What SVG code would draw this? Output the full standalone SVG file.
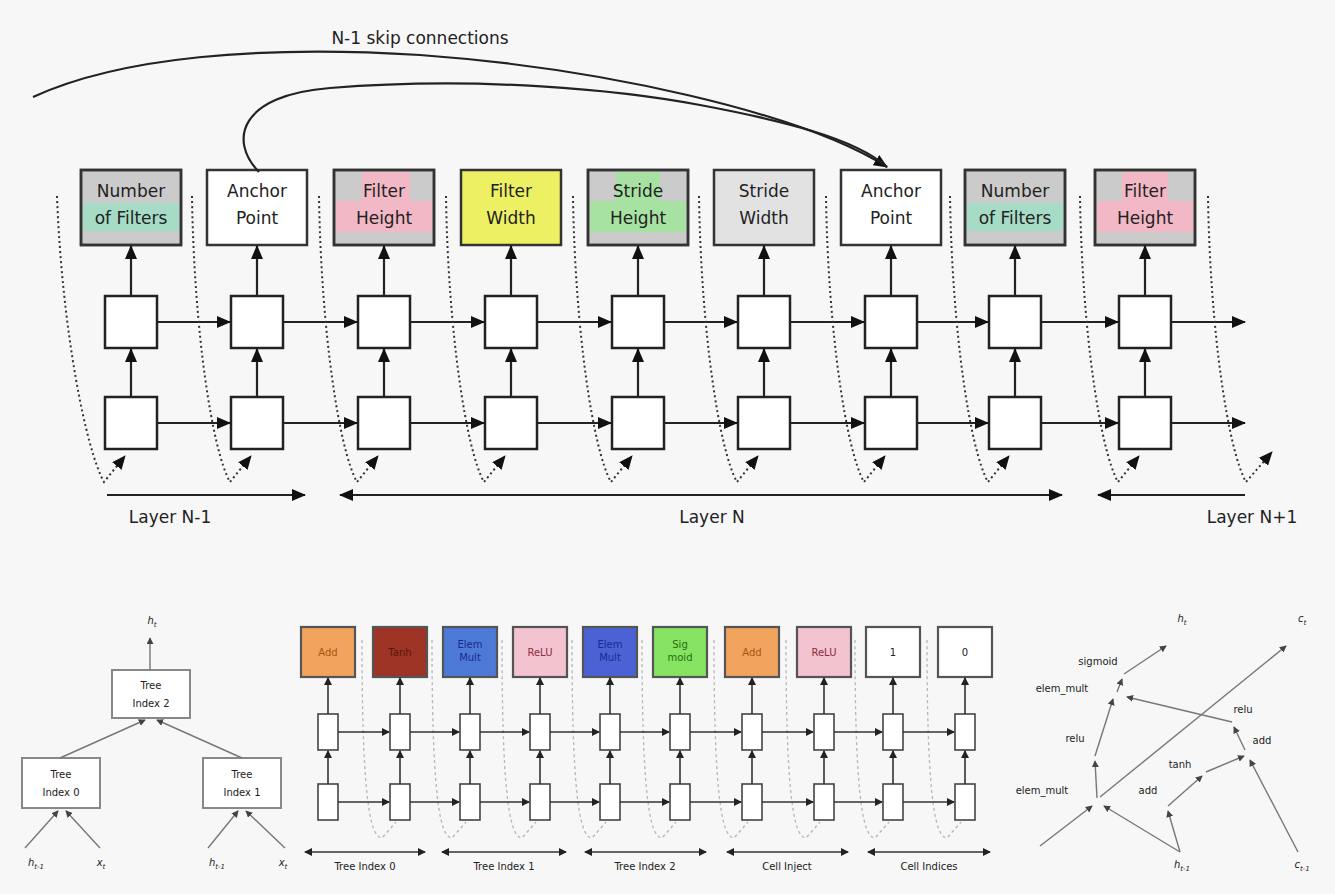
<svg xmlns="http://www.w3.org/2000/svg" width="1335" height="894" viewBox="0 0 1335 894">
<defs>
<style>
.t{font-family:"DejaVu Sans","Liberation Sans",sans-serif;fill:#222;}
.big{font-size:17px;text-anchor:middle;}
.sm{font-size:10px;text-anchor:middle;}
.ob{stroke:#333;stroke-width:2.5;}
.cell{fill:#fff;stroke:#222;stroke-width:2.5;}
.ln{fill:none;stroke:#222;stroke-width:2.2;}
.dot{fill:none;stroke:#333;stroke-width:2;stroke-dasharray:2 3;}
.cb{stroke:#555;stroke-width:2.2;}
.sc{fill:#fff;stroke:#444;stroke-width:1.6;}
.sl{fill:none;stroke:#333;stroke-width:1.6;}
.fd{fill:none;stroke:#b5b5b5;stroke-width:1.3;stroke-dasharray:3 3;}
.gl{fill:none;stroke:#777;stroke-width:1.4;}
.tb{fill:#fff;stroke:#888;stroke-width:2;}
</style>
<marker id="ah" viewBox="0 0 14 12" refX="13" refY="6" markerWidth="14" markerHeight="12" markerUnits="userSpaceOnUse" orient="auto-start-reverse"><path d="M0,0 L14,6 L0,12 z" fill="#111"/></marker>
<marker id="as" viewBox="0 0 8 8" refX="7" refY="4" markerWidth="8" markerHeight="8" markerUnits="userSpaceOnUse" orient="auto-start-reverse"><path d="M0,0 L8,4 L0,8 z" fill="#222"/></marker>
<marker id="ag" viewBox="0 0 8 8" refX="7" refY="4" markerWidth="7" markerHeight="7" markerUnits="userSpaceOnUse" orient="auto-start-reverse"><path d="M0,0 L8,4 L0,8 z" fill="#444"/></marker>
</defs>
<rect width="1335" height="894" fill="#f7f7f7"/>

<!-- ===== TOP: output boxes ===== -->
<g id="out1"><rect class="ob" x="81" y="170" width="100" height="75" fill="#cbcbcb"/><rect x="83" y="203" width="96" height="28" fill="#a6dcc6"/><rect class="ob" x="81" y="170" width="100" height="75" fill="none"/><text class="t big" x="131" y="197">Number</text><text class="t big" x="131" y="224">of Filters</text></g>
<g id="out2"><rect class="ob" x="207" y="170" width="100" height="75" fill="#fff"/><text class="t big" x="257" y="197">Anchor</text><text class="t big" x="257" y="224">Point</text></g>
<g id="out3"><rect class="ob" x="334" y="170" width="100" height="75" fill="#cbcbcb"/><rect x="336" y="201" width="96" height="31" fill="#f2b8c6"/><rect x="362" y="172" width="48" height="30" fill="#f2b8c6"/><rect class="ob" x="334" y="170" width="100" height="75" fill="none"/><text class="t big" x="384" y="197">Filter</text><text class="t big" x="384" y="224">Height</text></g>
<g id="out4"><rect class="ob" x="461" y="170" width="100" height="75" fill="#eef064"/><text class="t big" x="511" y="197">Filter</text><text class="t big" x="511" y="224">Width</text></g>
<g id="out5"><rect class="ob" x="588" y="170" width="100" height="75" fill="#cbcbcb"/><rect x="590" y="201" width="96" height="31" fill="#a8e2a2"/><rect x="616" y="172" width="44" height="30" fill="#a8e2a2"/><rect class="ob" x="588" y="170" width="100" height="75" fill="none"/><text class="t big" x="638" y="197">Stride</text><text class="t big" x="638" y="224">Height</text></g>
<g id="out6"><rect class="ob" x="714" y="170" width="100" height="75" fill="#e2e2e2"/><text class="t big" x="764" y="197">Stride</text><text class="t big" x="764" y="224">Width</text></g>
<g id="out7"><rect class="ob" x="841" y="170" width="100" height="75" fill="#fff"/><text class="t big" x="891" y="197">Anchor</text><text class="t big" x="891" y="224">Point</text></g>
<g id="out8"><rect class="ob" x="965" y="170" width="100" height="75" fill="#cbcbcb"/><rect x="967" y="203" width="96" height="28" fill="#a6dcc6"/><rect class="ob" x="965" y="170" width="100" height="75" fill="none"/><text class="t big" x="1015" y="197">Number</text><text class="t big" x="1015" y="224">of Filters</text></g>
<g id="out9"><rect class="ob" x="1095" y="170" width="100" height="75" fill="#cbcbcb"/><rect x="1097" y="201" width="96" height="31" fill="#f2b8c6"/><rect x="1122" y="172" width="46" height="30" fill="#f2b8c6"/><rect class="ob" x="1095" y="170" width="100" height="75" fill="none"/><text class="t big" x="1145" y="197">Filter</text><text class="t big" x="1145" y="224">Height</text></g>

<!-- ===== TOP: cells ===== -->
<g id="cells-top">
<rect class="cell" x="105" y="296" width="52" height="52"/><rect class="cell" x="105" y="397" width="52" height="52"/>
<rect class="cell" x="231" y="296" width="52" height="52"/><rect class="cell" x="231" y="397" width="52" height="52"/>
<rect class="cell" x="358" y="296" width="52" height="52"/><rect class="cell" x="358" y="397" width="52" height="52"/>
<rect class="cell" x="485" y="296" width="52" height="52"/><rect class="cell" x="485" y="397" width="52" height="52"/>
<rect class="cell" x="612" y="296" width="52" height="52"/><rect class="cell" x="612" y="397" width="52" height="52"/>
<rect class="cell" x="738" y="296" width="52" height="52"/><rect class="cell" x="738" y="397" width="52" height="52"/>
<rect class="cell" x="865" y="296" width="52" height="52"/><rect class="cell" x="865" y="397" width="52" height="52"/>
<rect class="cell" x="989" y="296" width="52" height="52"/><rect class="cell" x="989" y="397" width="52" height="52"/>
<rect class="cell" x="1119" y="296" width="52" height="52"/><rect class="cell" x="1119" y="397" width="52" height="52"/>
</g>

<!-- ===== TOP: connectors ===== -->
<g id="connectors-top">
<text class="t big" x="420" y="44">N-1 skip connections</text>
<path class="ln" d="M33,97 C120,57 260,45 420,55 C600,68 800,112 887,167" marker-end="url(#ah)"/>
<path class="ln" d="M259,172 C228,140 240,95 330,88 C480,76 620,90 700,105 C780,120 855,138 887,167"/>
<!-- vertical -->
<g>
<line class="ln" x1="131" y1="397" x2="131" y2="349" marker-end="url(#ah)"/><line class="ln" x1="131" y1="296" x2="131" y2="246" marker-end="url(#ah)"/>
<line class="ln" x1="257" y1="397" x2="257" y2="349" marker-end="url(#ah)"/><line class="ln" x1="257" y1="296" x2="257" y2="246" marker-end="url(#ah)"/>
<line class="ln" x1="384" y1="397" x2="384" y2="349" marker-end="url(#ah)"/><line class="ln" x1="384" y1="296" x2="384" y2="246" marker-end="url(#ah)"/>
<line class="ln" x1="511" y1="397" x2="511" y2="349" marker-end="url(#ah)"/><line class="ln" x1="511" y1="296" x2="511" y2="246" marker-end="url(#ah)"/>
<line class="ln" x1="638" y1="397" x2="638" y2="349" marker-end="url(#ah)"/><line class="ln" x1="638" y1="296" x2="638" y2="246" marker-end="url(#ah)"/>
<line class="ln" x1="764" y1="397" x2="764" y2="349" marker-end="url(#ah)"/><line class="ln" x1="764" y1="296" x2="764" y2="246" marker-end="url(#ah)"/>
<line class="ln" x1="891" y1="397" x2="891" y2="349" marker-end="url(#ah)"/><line class="ln" x1="891" y1="296" x2="891" y2="246" marker-end="url(#ah)"/>
<line class="ln" x1="1015" y1="397" x2="1015" y2="349" marker-end="url(#ah)"/><line class="ln" x1="1015" y1="296" x2="1015" y2="246" marker-end="url(#ah)"/>
<line class="ln" x1="1145" y1="397" x2="1145" y2="349" marker-end="url(#ah)"/><line class="ln" x1="1145" y1="296" x2="1145" y2="246" marker-end="url(#ah)"/>
</g>
<!-- horizontal -->
<g>
<line class="ln" x1="157" y1="322" x2="230" y2="322" marker-end="url(#ah)"/><line class="ln" x1="157" y1="423" x2="230" y2="423" marker-end="url(#ah)"/>
<line class="ln" x1="283" y1="322" x2="357" y2="322" marker-end="url(#ah)"/><line class="ln" x1="283" y1="423" x2="357" y2="423" marker-end="url(#ah)"/>
<line class="ln" x1="410" y1="322" x2="484" y2="322" marker-end="url(#ah)"/><line class="ln" x1="410" y1="423" x2="484" y2="423" marker-end="url(#ah)"/>
<line class="ln" x1="537" y1="322" x2="611" y2="322" marker-end="url(#ah)"/><line class="ln" x1="537" y1="423" x2="611" y2="423" marker-end="url(#ah)"/>
<line class="ln" x1="664" y1="322" x2="737" y2="322" marker-end="url(#ah)"/><line class="ln" x1="664" y1="423" x2="737" y2="423" marker-end="url(#ah)"/>
<line class="ln" x1="790" y1="322" x2="864" y2="322" marker-end="url(#ah)"/><line class="ln" x1="790" y1="423" x2="864" y2="423" marker-end="url(#ah)"/>
<line class="ln" x1="917" y1="322" x2="988" y2="322" marker-end="url(#ah)"/><line class="ln" x1="917" y1="423" x2="988" y2="423" marker-end="url(#ah)"/>
<line class="ln" x1="1041" y1="322" x2="1118" y2="322" marker-end="url(#ah)"/><line class="ln" x1="1041" y1="423" x2="1118" y2="423" marker-end="url(#ah)"/>
<line class="ln" x1="1171" y1="322" x2="1245" y2="322" marker-end="url(#ah)"/><line class="ln" x1="1171" y1="423" x2="1245" y2="423" marker-end="url(#ah)"/>
</g>
<!-- dotted feedback -->
<g>
<path class="dot" d="M57,196 C62,330 86,450 104,482 L125,456" marker-end="url(#ah)"/>
<path class="dot" d="M192,196 C194,330 212,450 230,482 L251,456" marker-end="url(#ah)"/>
<path class="dot" d="M319,196 C321,330 339,450 357,482 L378,456" marker-end="url(#ah)"/>
<path class="dot" d="M446,196 C448,330 466,450 484,482 L505,456" marker-end="url(#ah)"/>
<path class="dot" d="M573,196 C575,330 593,450 611,482 L632,456" marker-end="url(#ah)"/>
<path class="dot" d="M699,196 C701,330 719,450 737,482 L758,456" marker-end="url(#ah)"/>
<path class="dot" d="M826,196 C828,330 846,450 864,482 L885,456" marker-end="url(#ah)"/>
<path class="dot" d="M950,196 C952,330 970,450 988,482 L1009,456" marker-end="url(#ah)"/>
<path class="dot" d="M1080,196 C1082,330 1100,450 1118,482 L1139,456" marker-end="url(#ah)"/>
<path class="dot" d="M1208,196 C1210,330 1228,450 1246,482 L1272,452" marker-end="url(#ah)"/>
</g>
<!-- layer spans -->
<line class="ln" x1="107" y1="495" x2="305" y2="495" marker-end="url(#ah)"/>
<line class="ln" x1="340" y1="495" x2="1062" y2="495" marker-start="url(#ah)" marker-end="url(#ah)"/>
<line class="ln" x1="1245" y1="495" x2="1098" y2="495" marker-end="url(#ah)"/>
<text class="t big" x="170" y="523">Layer N-1</text>
<text class="t big" x="712" y="523">Layer N</text>
<text class="t big" x="1252" y="523">Layer N+1</text>
</g>

<!-- ===== BOTTOM LEFT: tree ===== -->
<g id="tree-2"><rect class="tb" x="112" y="670" width="78" height="48"/><text class="t sm" x="151" y="689">Tree</text><text class="t sm" x="151" y="707">Index 2</text></g>
<g id="tree-0"><rect class="tb" x="22" y="758" width="78" height="50"/><text class="t sm" x="61" y="778">Tree</text><text class="t sm" x="61" y="796">Index 0</text></g>
<g id="tree-1"><rect class="tb" x="203" y="758" width="78" height="50"/><text class="t sm" x="242" y="778">Tree</text><text class="t sm" x="242" y="796">Index 1</text></g>
<g id="tree-edges">
<line class="gl" x1="150" y1="670" x2="150" y2="638" marker-end="url(#ag)"/>
<line class="gl" x1="60" y1="758" x2="145" y2="720" marker-end="url(#ag)"/>
<line class="gl" x1="242" y1="758" x2="157" y2="720" marker-end="url(#ag)"/>
<line class="gl" x1="25" y1="848" x2="58" y2="811" marker-end="url(#ag)"/>
<line class="gl" x1="100" y1="848" x2="66" y2="811" marker-end="url(#ag)"/>
<line class="gl" x1="208" y1="848" x2="238" y2="811" marker-end="url(#ag)"/>
<line class="gl" x1="285" y1="848" x2="246" y2="811" marker-end="url(#ag)"/>
<text class="t sm" x="152" y="624" font-style="italic">h<tspan font-size="7" dy="3">t</tspan></text>
<text class="t sm" x="36" y="866" font-style="italic">h<tspan font-size="7" dy="3">t-1</tspan></text>
<text class="t sm" x="101" y="866" font-style="italic">x<tspan font-size="7" dy="3">t</tspan></text>
<text class="t sm" x="217" y="866" font-style="italic">h<tspan font-size="7" dy="3">t-1</tspan></text>
<text class="t sm" x="283" y="866" font-style="italic">x<tspan font-size="7" dy="3">t</tspan></text>
</g>

<!-- ===== BOTTOM MIDDLE: predictions ===== -->
<g id="pred-faint">
<path class="fd" d="M362,640 C362,780 368,838 382,838 L396,822"/>
<path class="fd" d="M432,640 C432,780 438,838 452,838 L466,822"/>
<path class="fd" d="M502,640 C502,780 508,838 522,838 L536,822"/>
<path class="fd" d="M572,640 C572,780 578,838 592,838 L606,822"/>
<path class="fd" d="M642,640 C642,780 648,838 662,838 L676,822"/>
<path class="fd" d="M714,640 C714,780 720,838 734,838 L748,822"/>
<path class="fd" d="M786,640 C786,780 792,838 806,838 L820,822"/>
<path class="fd" d="M855,640 C855,780 861,838 875,838 L889,822"/>
<path class="fd" d="M927,640 C927,780 933,838 947,838 L961,822"/>
</g>
<g id="p1"><rect class="cb" x="301" y="627" width="54" height="50" fill="#f2a35e"/><text class="t sm" x="328" y="656" fill="#a85510" style="fill:#a85510">Add</text></g>
<g id="p2"><rect class="cb" x="373" y="627" width="54" height="50" fill="#9e3426"/><text class="t sm" x="400" y="656" style="fill:#5a140c">Tanh</text></g>
<g id="p3"><rect class="cb" x="443" y="627" width="54" height="50" fill="#4d7ad6"/><text class="t sm" x="470" y="648" style="fill:#1c2a90">Elem</text><text class="t sm" x="470" y="661" style="fill:#1c2a90">Mult</text></g>
<g id="p4"><rect class="cb" x="513" y="627" width="54" height="50" fill="#f3c3d0"/><text class="t sm" x="540" y="656" style="fill:#8a2c40">ReLU</text></g>
<g id="p5"><rect class="cb" x="583" y="627" width="54" height="50" fill="#4a62d4"/><text class="t sm" x="610" y="648" style="fill:#1c2a90">Elem</text><text class="t sm" x="610" y="661" style="fill:#1c2a90">Mult</text></g>
<g id="p6"><rect class="cb" x="653" y="627" width="54" height="50" fill="#86e462"/><text class="t sm" x="680" y="648" style="fill:#2a6a10">Sig</text><text class="t sm" x="680" y="661" style="fill:#2a6a10">moid</text></g>
<g id="p7"><rect class="cb" x="725" y="627" width="54" height="50" fill="#f2a35e"/><text class="t sm" x="752" y="656" style="fill:#a85510">Add</text></g>
<g id="p8"><rect class="cb" x="797" y="627" width="54" height="50" fill="#f3c3d0"/><text class="t sm" x="824" y="656" style="fill:#8a2c40">ReLU</text></g>
<g id="p9"><rect class="cb" x="866" y="627" width="54" height="50" fill="#fff"/><text class="t sm" x="893" y="656">1</text></g>
<g id="p10"><rect class="cb" x="938" y="627" width="54" height="50" fill="#fff"/><text class="t sm" x="965" y="656">0</text></g>
<g id="pred-cells">
<rect class="sc" x="318" y="714" width="20" height="36"/><rect class="sc" x="318" y="784" width="20" height="36"/>
<rect class="sc" x="390" y="714" width="20" height="36"/><rect class="sc" x="390" y="784" width="20" height="36"/>
<rect class="sc" x="460" y="714" width="20" height="36"/><rect class="sc" x="460" y="784" width="20" height="36"/>
<rect class="sc" x="530" y="714" width="20" height="36"/><rect class="sc" x="530" y="784" width="20" height="36"/>
<rect class="sc" x="600" y="714" width="20" height="36"/><rect class="sc" x="600" y="784" width="20" height="36"/>
<rect class="sc" x="670" y="714" width="20" height="36"/><rect class="sc" x="670" y="784" width="20" height="36"/>
<rect class="sc" x="742" y="714" width="20" height="36"/><rect class="sc" x="742" y="784" width="20" height="36"/>
<rect class="sc" x="814" y="714" width="20" height="36"/><rect class="sc" x="814" y="784" width="20" height="36"/>
<rect class="sc" x="883" y="714" width="20" height="36"/><rect class="sc" x="883" y="784" width="20" height="36"/>
<rect class="sc" x="955" y="714" width="20" height="36"/><rect class="sc" x="955" y="784" width="20" height="36"/>
</g>
<g id="pred-connectors">
<line class="sl" x1="328" y1="784" x2="328" y2="751" marker-end="url(#as)"/><line class="sl" x1="328" y1="714" x2="328" y2="678" marker-end="url(#as)"/>
<line class="sl" x1="400" y1="784" x2="400" y2="751" marker-end="url(#as)"/><line class="sl" x1="400" y1="714" x2="400" y2="678" marker-end="url(#as)"/>
<line class="sl" x1="470" y1="784" x2="470" y2="751" marker-end="url(#as)"/><line class="sl" x1="470" y1="714" x2="470" y2="678" marker-end="url(#as)"/>
<line class="sl" x1="540" y1="784" x2="540" y2="751" marker-end="url(#as)"/><line class="sl" x1="540" y1="714" x2="540" y2="678" marker-end="url(#as)"/>
<line class="sl" x1="610" y1="784" x2="610" y2="751" marker-end="url(#as)"/><line class="sl" x1="610" y1="714" x2="610" y2="678" marker-end="url(#as)"/>
<line class="sl" x1="680" y1="784" x2="680" y2="751" marker-end="url(#as)"/><line class="sl" x1="680" y1="714" x2="680" y2="678" marker-end="url(#as)"/>
<line class="sl" x1="752" y1="784" x2="752" y2="751" marker-end="url(#as)"/><line class="sl" x1="752" y1="714" x2="752" y2="678" marker-end="url(#as)"/>
<line class="sl" x1="824" y1="784" x2="824" y2="751" marker-end="url(#as)"/><line class="sl" x1="824" y1="714" x2="824" y2="678" marker-end="url(#as)"/>
<line class="sl" x1="893" y1="784" x2="893" y2="751" marker-end="url(#as)"/><line class="sl" x1="893" y1="714" x2="893" y2="678" marker-end="url(#as)"/>
<line class="sl" x1="965" y1="784" x2="965" y2="751" marker-end="url(#as)"/><line class="sl" x1="965" y1="714" x2="965" y2="678" marker-end="url(#as)"/>
<line class="sl" x1="338" y1="732" x2="389" y2="732" marker-end="url(#as)"/><line class="sl" x1="338" y1="802" x2="389" y2="802" marker-end="url(#as)"/>
<line class="sl" x1="410" y1="732" x2="459" y2="732" marker-end="url(#as)"/><line class="sl" x1="410" y1="802" x2="459" y2="802" marker-end="url(#as)"/>
<line class="sl" x1="480" y1="732" x2="529" y2="732" marker-end="url(#as)"/><line class="sl" x1="480" y1="802" x2="529" y2="802" marker-end="url(#as)"/>
<line class="sl" x1="550" y1="732" x2="599" y2="732" marker-end="url(#as)"/><line class="sl" x1="550" y1="802" x2="599" y2="802" marker-end="url(#as)"/>
<line class="sl" x1="620" y1="732" x2="669" y2="732" marker-end="url(#as)"/><line class="sl" x1="620" y1="802" x2="669" y2="802" marker-end="url(#as)"/>
<line class="sl" x1="690" y1="732" x2="741" y2="732" marker-end="url(#as)"/><line class="sl" x1="690" y1="802" x2="741" y2="802" marker-end="url(#as)"/>
<line class="sl" x1="762" y1="732" x2="813" y2="732" marker-end="url(#as)"/><line class="sl" x1="762" y1="802" x2="813" y2="802" marker-end="url(#as)"/>
<line class="sl" x1="834" y1="732" x2="882" y2="732" marker-end="url(#as)"/><line class="sl" x1="834" y1="802" x2="882" y2="802" marker-end="url(#as)"/>
<line class="sl" x1="903" y1="732" x2="954" y2="732" marker-end="url(#as)"/><line class="sl" x1="903" y1="802" x2="954" y2="802" marker-end="url(#as)"/>
<line class="sl" x1="305" y1="852" x2="425" y2="852" marker-start="url(#as)" marker-end="url(#as)"/>
<line class="sl" x1="442" y1="852" x2="566" y2="852" marker-start="url(#as)" marker-end="url(#as)"/>
<line class="sl" x1="585" y1="852" x2="706" y2="852" marker-start="url(#as)" marker-end="url(#as)"/>
<line class="sl" x1="727" y1="852" x2="848" y2="852" marker-start="url(#as)" marker-end="url(#as)"/>
<line class="sl" x1="868" y1="852" x2="990" y2="852" marker-start="url(#as)" marker-end="url(#as)"/>
<text class="t sm" x="365" y="870">Tree Index 0</text>
<text class="t sm" x="504" y="870">Tree Index 1</text>
<text class="t sm" x="645" y="870">Tree Index 2</text>
<text class="t sm" x="787" y="870">Cell Inject</text>
<text class="t sm" x="929" y="870">Cell Indices</text>
</g>

<!-- ===== BOTTOM RIGHT: computation graph ===== -->
<g id="graph">
<line class="gl" x1="1180" y1="852" x2="1168" y2="811" marker-end="url(#ag)"/>
<line class="gl" x1="1180" y1="852" x2="1104" y2="806" marker-end="url(#ag)"/>
<line class="gl" x1="1040" y1="846" x2="1092" y2="806" marker-end="url(#ag)"/>
<line class="gl" x1="1298" y1="852" x2="1250" y2="760" marker-end="url(#ag)"/>
<line class="gl" x1="1168" y1="806" x2="1202" y2="776" marker-end="url(#ag)"/>
<line class="gl" x1="1206" y1="772" x2="1244" y2="756" marker-end="url(#ag)"/>
<line class="gl" x1="1245" y1="750" x2="1234" y2="727" marker-end="url(#ag)"/>
<line class="gl" x1="1232" y1="722" x2="1127" y2="697" marker-end="url(#ag)"/>
<line class="gl" x1="1097" y1="798" x2="1095" y2="761" marker-end="url(#ag)"/>
<line class="gl" x1="1095" y1="756" x2="1113" y2="699" marker-end="url(#ag)"/>
<line class="gl" x1="1117" y1="692" x2="1122" y2="679" marker-end="url(#ag)"/>
<line class="gl" x1="1124" y1="674" x2="1166" y2="646" marker-end="url(#ag)"/>
<line class="gl" x1="1100" y1="797" x2="1286" y2="646" marker-end="url(#ag)"/>
<text class="t sm" x="1098" y="665">sigmoid</text>
<text class="t sm" x="1062" y="692">elem_mult</text>
<text class="t sm" x="1075" y="742">relu</text>
<text class="t sm" x="1042" y="794">elem_mult</text>
<text class="t sm" x="1148" y="794">add</text>
<text class="t sm" x="1180" y="768">tanh</text>
<text class="t sm" x="1262" y="744">add</text>
<text class="t sm" x="1243" y="713">relu</text>
<text class="t sm" x="1182" y="622" font-style="italic">h<tspan font-size="7" dy="3">t</tspan></text>
<text class="t sm" x="1302" y="622" font-style="italic">c<tspan font-size="7" dy="3">t</tspan></text>
<text class="t sm" x="1182" y="868" font-style="italic">h<tspan font-size="7" dy="3">t-1</tspan></text>
<text class="t sm" x="1302" y="868" font-style="italic">c<tspan font-size="7" dy="3">t-1</tspan></text>
</g>
</svg>
